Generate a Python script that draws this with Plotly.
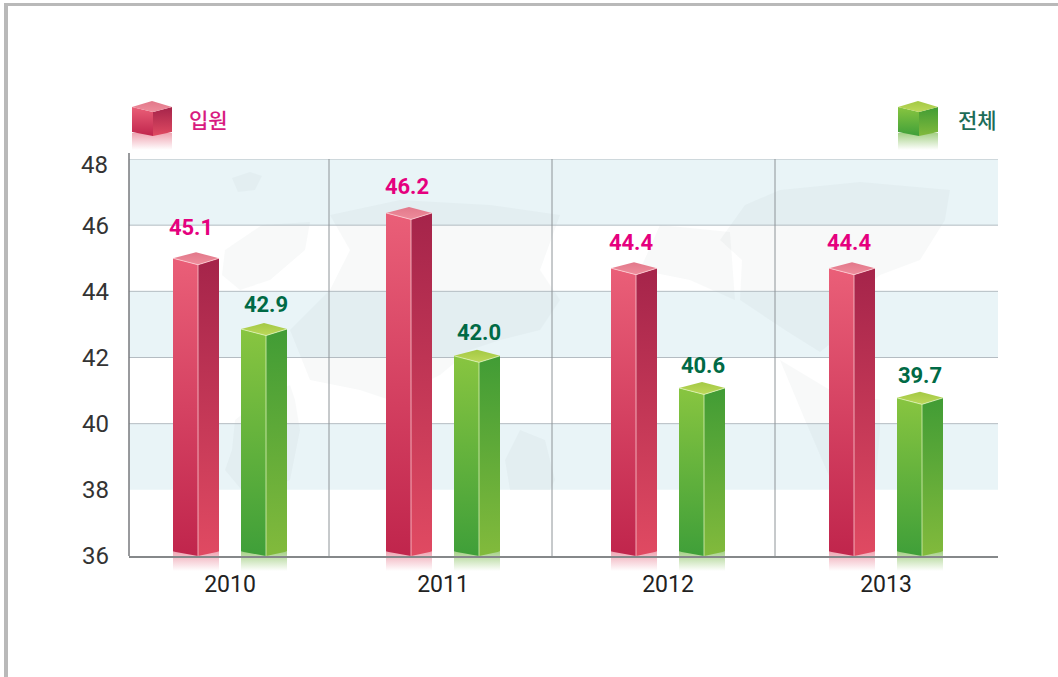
import plotly.graph_objects as go

# ---- data ----
years = ["2010", "2011", "2012", "2013"]
inpatient_labels = ["45.1", "46.2", "44.4", "44.4"]
total_labels = ["42.9", "42.0", "40.6", "39.7"]
# bar tops as they are drawn against the axis (the picture does not follow its own labels)
inpatient_heights = [45.0, 46.37, 44.7, 44.7]
total_heights = [42.86, 42.05, 41.08, 40.78]
y_ticks = [36, 38, 40, 42, 44, 46, 48]
y_ticktext = ["36", "38", "40", "42", "44", "46", ""]
top_tick_text = "48"
legend_inpatient = "입원"
legend_total = "전체"

# ---- layout constants (both x axes are expressed in pixel units) ----
W, H = 1058, 677
PL, PR, PT, PB = 129, 998, 159, 556
UNIT = (PB - PT) / 12.0
group_x = [230, 443, 668, 886]
separators = [329, 552, 775]
red_label_x = [191, 407, 631, 849]
red_label_px = [229, 188, 244, 244]
grn_label_x = [266, 479, 703, 920]
grn_label_px = [306, 334, 367, 377]


def py(px):
    return 36 + (PB - px) / UNIT


RED = dict(left=("#ea5f78", "#c0254c"), right=("#a5244a", "#e04a62"), top=("#e2788a", "#ee8d9c"),
           refl="rgba(226,90,115,0.55)", refl0="rgba(226,90,115,0)", text="#e5007e", edge="rgba(255,210,215,0.75)")
GRN = dict(left=("#88c540", "#3f9f39"), right=("#419c35", "#82ba3c"), top=("#a4c944", "#bcd85a"),
           refl="rgba(110,180,60,0.62)", refl0="rgba(110,180,60,0)", text="#006a45", edge="rgba(225,245,190,0.75)")

fig = go.Figure()


def poly(xs, ys, c0, c1, page=False):
    """Filled polygon with vertical gradient c0 (upper edge) to c1 (lower edge)."""
    fig.add_trace(go.Scatter(
        x=xs + [xs[0]], y=ys + [ys[0]], mode="lines", line=dict(width=0), fill="toself",
        fillgradient=dict(type="vertical", colorscale=[[0, c1], [1, c0]]),
        xaxis="x" if page else "x2", yaxis="y" if page else "y2",
        hoverinfo="skip", showlegend=False))


def box(x0, x2, x1, xa, v, rise, drop, chev, refl_h, st):
    """One cuboid: v = data height of the side corners."""
    dy_drop = drop / UNIT
    dy_rise = rise / UNIT
    dy_chev = chev / UNIT
    base = 36.0
    # reflection lives on the full-page axes so it can lie below the x axis
    poly([x0, x2, x2, x0], [PB - chev, PB - chev, PB + refl_h, PB + refl_h], st["refl"], st["refl0"], page=True)
    poly([x0, x1, x1, x0], [v, v - dy_drop, base, base + dy_chev], *st["left"])
    poly([x1, x2, x2, x1], [v - dy_drop, v, base + dy_chev, base], *st["right"])
    poly([x0, xa, x2, x1], [v, v + dy_rise, v, v - dy_drop], st["top"][0], st["top"][1])
    for xs, ys in (([x0, x1, x2], [v, v - dy_drop, v]), ([x1, x1], [v - dy_drop, base])):
        fig.add_trace(go.Scatter(x=xs, y=ys, mode="lines", line=dict(color=st["edge"], width=1),
                                 xaxis="x2", yaxis="y2", hoverinfo="skip", showlegend=False))


for i, cx in enumerate(group_x):
    l = cx - 57
    box(l, l + 46, l + 25, l + 23, inpatient_heights[i], 6, 6.5, 4.5, 15, RED)
    l2 = cx + 11
    box(l2, l2 + 46, l2 + 25, l2 + 23, total_heights[i], 6, 6.5, 4.5, 15, GRN)

# value labels
for lx, lp, lab, st in ((red_label_x, red_label_px, inpatient_labels, RED), (grn_label_x, grn_label_px, total_labels, GRN)):
    fig.add_trace(go.Scatter(
        x=lx, y=[py(p) for p in lp], text=lab, mode="text", textposition="middle center",
        textfont=dict(family="Roboto", size=22, color=st["text"], weight="bold"),
        xaxis="x2", yaxis="y2", hoverinfo="skip", showlegend=False))

# legend cubes on the full-page axes
for lx, st in ((132, RED), (898, GRN)):
    poly([lx, lx + 40, lx + 40, lx], [133, 133, 150, 150], st["refl"], st["refl0"], page=True)
    poly([lx, lx + 21, lx + 21, lx], [107, 112, 136, 132], *st["left"], page=True)
    poly([lx + 21, lx + 40, lx + 40, lx + 21], [112, 107, 132, 136], *st["right"], page=True)
    poly([lx, lx + 20, lx + 40, lx + 21], [107, 101, 107, 112], st["top"][0], st["top"][1], page=True)


def map_path(points):
    return "M" + " L".join(f"{x},{py(y):.3f}" for x, y in points) + " Z"


shapes = []
# bands
for lo, hi in ((46, 48), (42, 44), (38, 40)):
    shapes.append(dict(type="rect", xref="x2", x0=PL, x1=PR, yref="y2", y0=lo, y1=hi,
                       fillcolor="#e9f4f7", line=dict(width=0), layer="below"))
# faint world map behind the bars
world = [
    [(232, 178), (250, 172), (262, 176), (255, 190), (238, 192)],
    [(225, 250), (262, 225), (310, 222), (305, 250), (270, 280), (240, 290), (222, 275)],
    [(330, 215), (400, 200), (490, 205), (560, 215), (540, 270), (560, 300), (540, 330),
     (500, 340), (470, 350), (440, 375), (390, 400), (360, 390), (310, 380), (290, 330), (330, 290), (350, 250)],
    [(300, 430), (295, 400), (290, 385), (260, 400), (235, 420), (232, 450), (225, 470), (250, 500), (290, 480)],
    [(505, 460), (520, 430), (545, 440), (555, 480), (550, 490), (510, 490)],
    [(745, 205), (780, 190), (860, 182), (950, 190), (945, 220), (920, 260), (880, 275), (850, 300),
     (835, 340), (820, 352), (785, 330), (740, 300), (742, 260), (720, 240)],
    [(780, 360), (830, 390), (880, 400), (880, 430), (875, 490), (835, 490), (805, 420)],
    [(660, 225), (730, 232), (735, 300), (690, 280), (640, 270)],
]
for blob in world:
    shapes.append(dict(type="path", xref="x2", yref="y2", path=map_path(blob),
                       fillcolor="rgba(150,165,175,0.07)", line=dict(width=0), layer="below"))
# gridlines
for g in (40, 42, 44, 46, 48):
    shapes.append(dict(type="line", xref="x2", x0=PL, x1=PR, yref="y2", y0=g, y1=g,
                       line=dict(color="#b4bcc2", width=1), layer="below"))
# separators
for sx in separators:
    shapes.append(dict(type="line", xref="x2", x0=sx, x1=sx, yref="y2", y0=36, y1=48,
                       line=dict(color="#8e9498", width=1), layer="below"))
# outer page border
for x0, y0, x1, y1 in ((4, 3, 1058, 6), (4, 3, 8, 677)):
    shapes.append(dict(type="rect", xref="paper", yref="paper",
                       x0=x0 / W, x1=x1 / W, y0=1 - y0 / H, y1=1 - y1 / H,
                       fillcolor="#b9b9b9", line=dict(width=0), layer="above"))
# left axis, reaching slightly above the plot
shapes.append(dict(type="line", xref="paper", yref="paper", x0=PL / W, x1=PL / W, y0=1 - PB / H, y1=1 - 153 / H,
                   line=dict(color="#77797c", width=1.5), layer="above"))

annotations = [
    dict(x=187 / W, y=1 - 119 / H, xref="paper", yref="paper", xanchor="left", yanchor="middle",
         text=legend_inpatient, showarrow=False, font=dict(family="Noto Sans CJK KR", size=21, color="#d81b80", weight=500)),
    dict(x=956 / W, y=1 - 119 / H, xref="paper", yref="paper", xanchor="left", yanchor="middle",
         text=legend_total, showarrow=False, font=dict(family="Noto Sans CJK KR", size=21, color="#1c6c58", weight=500)),
    dict(x=110 / W, y=1 - 165 / H, xref="paper", yref="paper", xanchor="right", yanchor="middle",
         text=top_tick_text, showarrow=False, font=dict(family="Roboto", size=24, color="#333333")),
]

fig.update_layout(
    width=W, height=H, autosize=False,
    margin=dict(l=0, r=0, t=0, b=0, pad=0, autoexpand=False),
    paper_bgcolor="white", plot_bgcolor="rgba(0,0,0,0)",
    shapes=shapes, annotations=annotations, showlegend=False,
    xaxis=dict(domain=[0, 1], range=[0, W], visible=False, fixedrange=True, anchor="y", automargin=False),
    yaxis=dict(domain=[0, 1], range=[H, 0], visible=False, fixedrange=True, anchor="x", automargin=False),
    xaxis2=dict(domain=[PL / W, PR / W], range=[PL, PR], anchor="y2", tickmode="array", tickvals=group_x,
                ticktext=years, showgrid=False, zeroline=False, showline=True, linecolor="#85888a", linewidth=1.5,
                ticks="", ticklabelstandoff=7, automargin=False,
                tickfont=dict(family="Roboto", size=23, color="#222222"), fixedrange=True),
    yaxis2=dict(domain=[1 - PB / H, 1 - PT / H], range=[36, 48], anchor="x2", tickmode="array", tickvals=y_ticks,
                ticktext=y_ticktext, showgrid=False, zeroline=False, showline=False, ticks="", ticklabelstandoff=19,
                automargin=False, tickfont=dict(family="Roboto", size=24, color="#333333"), fixedrange=True),
)

fig.write_html("out.html", config=dict(displayModeBar=False),
               post_script="document.body.style.margin='0';document.documentElement.style.overflow='hidden';")
